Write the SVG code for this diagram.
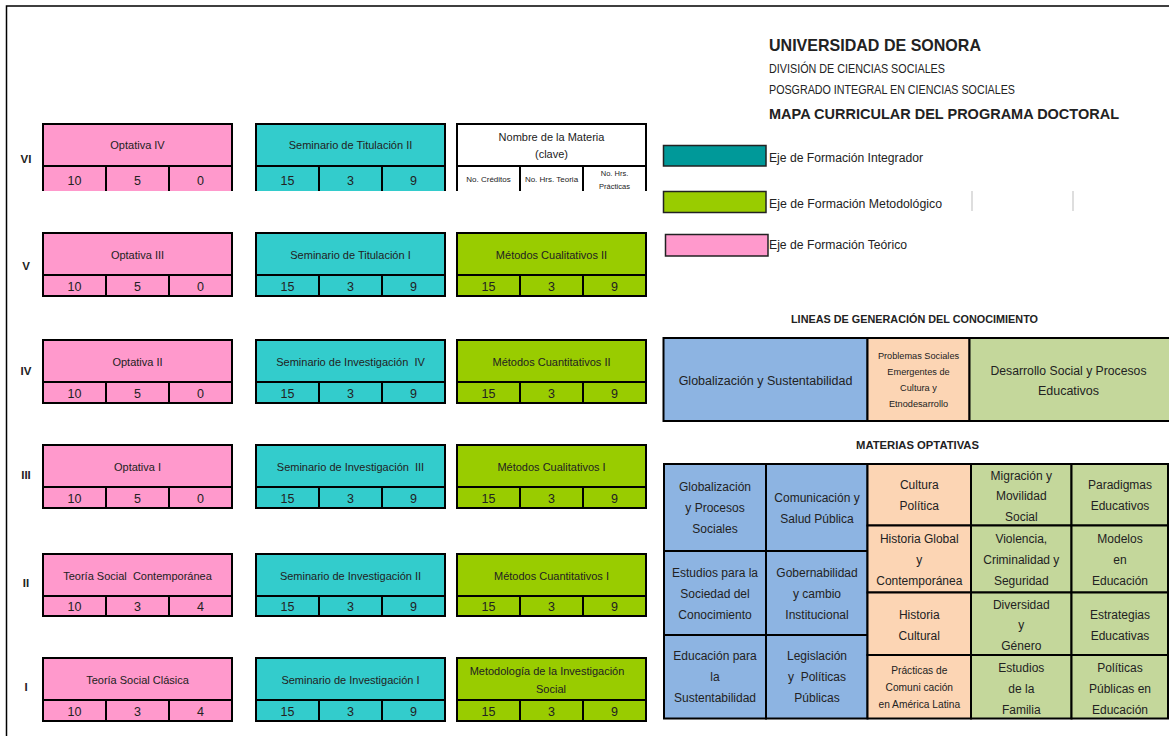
<svg xmlns="http://www.w3.org/2000/svg" width="1169" height="736" viewBox="0 0 1169 736">
<style>
text{font-family:"Liberation Sans",Arial,sans-serif;fill:#222}
.ln{fill:none;stroke:#000;stroke-width:2}
.b{stroke:#000;stroke-width:2}
.pk{fill:#FF99CC}.tl{fill:#33CCCC}.gr{fill:#99CC00}
.bl{fill:#8DB4E2}.pe{fill:#FCD5B4}.lg{fill:#C4D79B}
.t{font-size:11px;text-anchor:middle;dominant-baseline:central}
.n{font-size:12.5px;text-anchor:middle;dominant-baseline:central}
.r{font-size:11.5px;font-weight:bold;text-anchor:middle;dominant-baseline:central}
.o{font-size:12px;text-anchor:middle;dominant-baseline:central}
.s{font-size:8px;text-anchor:middle;dominant-baseline:central}
.s2{font-size:7.5px;text-anchor:middle;dominant-baseline:central}
.ps{font-size:9.2px;text-anchor:middle;dominant-baseline:central}
.pc{font-size:10.2px;text-anchor:middle;dominant-baseline:central}
.lo{font-size:12.5px;text-anchor:middle;dominant-baseline:central}
.h{font-weight:bold}
.lgd{font-size:12px}
</style>
<rect width="1169" height="736" fill="#fff"/>
<g id="frame"><path d="M6.5,736 V6 H1169" fill="none" stroke="#000" stroke-width="1.5"/></g>
<g id="connectors"/>

<g id="header">
<text class="h" x="769" y="51" font-size="17" textLength="212" lengthAdjust="spacingAndGlyphs">UNIVERSIDAD DE SONORA</text>
<text x="769" y="73" font-size="12" textLength="176" lengthAdjust="spacingAndGlyphs">DIVISIÓN DE CIENCIAS SOCIALES</text>
<text x="769" y="93.5" font-size="12" textLength="246" lengthAdjust="spacingAndGlyphs">POSGRADO INTEGRAL EN CIENCIAS SOCIALES</text>
<text class="h" x="769" y="119" font-size="15.5" textLength="350" lengthAdjust="spacingAndGlyphs">MAPA CURRICULAR DEL PROGRAMA DOCTORAL</text>
</g>

<g id="legend">
<rect x="663.5" y="145.5" width="102.5" height="20.5" fill="#009999" stroke="#222" stroke-width="1.5"/>
<text class="lgd" x="769" y="161.5" textLength="154" lengthAdjust="spacingAndGlyphs">Eje de Formación Integrador</text>
<rect x="663.5" y="191.5" width="102.5" height="21" fill="#99CC00" stroke="#222" stroke-width="1.5"/>
<text class="lgd" x="769" y="207.5" textLength="173" lengthAdjust="spacingAndGlyphs">Eje de Formación Metodológico</text>
<rect x="665.5" y="234.5" width="102.5" height="21.5" fill="#FF99CC" stroke="#222" stroke-width="1.5"/>
<text class="lgd" x="769" y="248.5" textLength="138" lengthAdjust="spacingAndGlyphs">Eje de Formación Teórico</text>
<path d="M972,191 V211 M1073,191 V211" stroke="#d4d4d4" stroke-width="1.5"/>
</g>

<g id="semesters">
<text class="r" x="26" y="159">VI</text>
<text class="r" x="26" y="266">V</text>
<text class="r" x="26" y="371">IV</text>
<text class="r" x="26" y="475">III</text>
<text class="r" x="26" y="583">II</text>
<text class="r" x="26" y="687">I</text>
</g>

<!-- Row VI -->
<g id="optativa-iv">
<rect class="pk" x="43" y="124" width="189" height="67"/>
<path class="ln" d="M43,191 V124 H232 V191 M43,166 H232 M106,166 V191 M169,166 V191"/>
<text class="t" x="137.5" y="145">Optativa IV</text>
<text class="n" x="74.5" y="181">10</text><text class="n" x="137.5" y="181">5</text><text class="n" x="200.5" y="181">0</text>
</g>
<g id="seminario-titulacion-ii">
<rect class="tl" x="256" y="124" width="189" height="67"/>
<path class="ln" d="M256,191 V124 H445 V191 M256,166 H445 M319,166 V191 M382,166 V191"/>
<text class="t" x="350.5" y="145">Seminario de Titulación II</text>
<text class="n" x="287.5" y="181">15</text><text class="n" x="350.5" y="181">3</text><text class="n" x="413.5" y="181">9</text>
</g>
<g id="nombre-materia">
<rect x="457" y="124" width="189" height="67" fill="#fff"/>
<path class="ln" d="M457,191 V124 H646 V191 M457,166 H646 M520,166 V191 M583,166 V191"/>
<text class="t" x="551.5" y="137">Nombre de la Materia</text>
<text class="t" x="551.5" y="154">(clave)</text>
<text class="s" x="488.5" y="179.5">No. Créditos</text>
<text class="s" x="551.5" y="179.5">No. Hrs. Teoria</text>
<text class="s2" x="614.5" y="173">No. Hrs.</text>
<text class="s2" x="614.5" y="186">Prácticas</text>
</g>

<!-- Row V -->
<g id="optativa-iii">
<rect class="pk b" x="43" y="233" width="189" height="63"/>
<path class="ln" d="M43,275 H232 M106,275 V296 M169,275 V296"/>
<text class="t" x="137.5" y="255">Optativa III</text>
<text class="n" x="74.5" y="286.5">10</text><text class="n" x="137.5" y="286.5">5</text><text class="n" x="200.5" y="286.5">0</text>
</g>
<g id="seminario-titulacion-i">
<rect class="tl b" x="256" y="233" width="189" height="63"/>
<path class="ln" d="M256,275 H445 M319,275 V296 M382,275 V296"/>
<text class="t" x="350.5" y="255">Seminario de Titulación I</text>
<text class="n" x="287.5" y="286.5">15</text><text class="n" x="350.5" y="286.5">3</text><text class="n" x="413.5" y="286.5">9</text>
</g>
<g id="metodos-cualitativos-ii">
<rect class="gr b" x="457" y="233" width="189" height="63"/>
<path class="ln" d="M457,275 H646 M520,275 V296 M583,275 V296"/>
<text class="t" x="551.5" y="255">Métodos Cualitativos II</text>
<text class="n" x="488.5" y="286.5">15</text><text class="n" x="551.5" y="286.5">3</text><text class="n" x="614.5" y="286.5">9</text>
</g>

<!-- Row IV -->
<g id="optativa-ii">
<rect class="pk b" x="43" y="340" width="189" height="63"/>
<path class="ln" d="M43,382 H232 M106,382 V403 M169,382 V403"/>
<text class="t" x="137.5" y="362">Optativa II</text>
<text class="n" x="74.5" y="393.5">10</text><text class="n" x="137.5" y="393.5">5</text><text class="n" x="200.5" y="393.5">0</text>
</g>
<g id="seminario-investigacion-iv">
<rect class="tl b" x="256" y="340" width="189" height="63"/>
<path class="ln" d="M256,382 H445 M319,382 V403 M382,382 V403"/>
<text class="t" x="350.5" y="362" xml:space="preserve">Seminario de Investigación  IV</text>
<text class="n" x="287.5" y="393.5">15</text><text class="n" x="350.5" y="393.5">3</text><text class="n" x="413.5" y="393.5">9</text>
</g>
<g id="metodos-cuantitativos-ii">
<rect class="gr b" x="457" y="340" width="189" height="63"/>
<path class="ln" d="M457,382 H646 M520,382 V403 M583,382 V403"/>
<text class="t" x="551.5" y="362">Métodos Cuantitativos II</text>
<text class="n" x="488.5" y="393.5">15</text><text class="n" x="551.5" y="393.5">3</text><text class="n" x="614.5" y="393.5">9</text>
</g>

<!-- Row III -->
<g id="optativa-i">
<rect class="pk b" x="43" y="445" width="189" height="63"/>
<path class="ln" d="M43,487 H232 M106,487 V508 M169,487 V508"/>
<text class="t" x="137.5" y="467">Optativa I</text>
<text class="n" x="74.5" y="498.5">10</text><text class="n" x="137.5" y="498.5">5</text><text class="n" x="200.5" y="498.5">0</text>
</g>
<g id="seminario-investigacion-iii">
<rect class="tl b" x="256" y="445" width="189" height="63"/>
<path class="ln" d="M256,487 H445 M319,487 V508 M382,487 V508"/>
<text class="t" x="350.5" y="467" xml:space="preserve">Seminario de Investigación  III</text>
<text class="n" x="287.5" y="498.5">15</text><text class="n" x="350.5" y="498.5">3</text><text class="n" x="413.5" y="498.5">9</text>
</g>
<g id="metodos-cualitativos-i">
<rect class="gr b" x="457" y="445" width="189" height="63"/>
<path class="ln" d="M457,487 H646 M520,487 V508 M583,487 V508"/>
<text class="t" x="551.5" y="467">Métodos Cualitativos I</text>
<text class="n" x="488.5" y="498.5">15</text><text class="n" x="551.5" y="498.5">3</text><text class="n" x="614.5" y="498.5">9</text>
</g>

<!-- Row II -->
<g id="teoria-social-contemporanea">
<rect class="pk b" x="43" y="554" width="189" height="62"/>
<path class="ln" d="M43,596 H232 M106,596 V616 M169,596 V616"/>
<text class="t" x="137.5" y="576" xml:space="preserve">Teoría Social  Contemporánea</text>
<text class="n" x="74.5" y="607">10</text><text class="n" x="137.5" y="607">3</text><text class="n" x="200.5" y="607">4</text>
</g>
<g id="seminario-investigacion-ii">
<rect class="tl b" x="256" y="554" width="189" height="62"/>
<path class="ln" d="M256,596 H445 M319,596 V616 M382,596 V616"/>
<text class="t" x="350.5" y="576">Seminario de Investigación II</text>
<text class="n" x="287.5" y="607">15</text><text class="n" x="350.5" y="607">3</text><text class="n" x="413.5" y="607">9</text>
</g>
<g id="metodos-cuantitativos-i">
<rect class="gr b" x="457" y="554" width="189" height="62"/>
<path class="ln" d="M457,596 H646 M520,596 V616 M583,596 V616"/>
<text class="t" x="551.5" y="576">Métodos Cuantitativos I</text>
<text class="n" x="488.5" y="607">15</text><text class="n" x="551.5" y="607">3</text><text class="n" x="614.5" y="607">9</text>
</g>

<!-- Row I -->
<g id="teoria-social-clasica">
<rect class="pk b" x="43" y="658" width="189" height="63"/>
<path class="ln" d="M43,700 H232 M106,700 V721 M169,700 V721"/>
<text class="t" x="137.5" y="680">Teoría Social Clásica</text>
<text class="n" x="74.5" y="711.5">10</text><text class="n" x="137.5" y="711.5">3</text><text class="n" x="200.5" y="711.5">4</text>
</g>
<g id="seminario-investigacion-i">
<rect class="tl b" x="256" y="658" width="189" height="63"/>
<path class="ln" d="M256,700 H445 M319,700 V721 M382,700 V721"/>
<text class="t" x="350.5" y="680">Seminario de Investigación I</text>
<text class="n" x="287.5" y="711.5">15</text><text class="n" x="350.5" y="711.5">3</text><text class="n" x="413.5" y="711.5">9</text>
</g>
<g id="metodologia-investigacion-social">
<rect class="gr b" x="457" y="658" width="189" height="63"/>
<path class="ln" d="M457,700 H646 M520,700 V721 M583,700 V721"/>
<text class="t" x="547" y="671">Metodología de la Investigación</text>
<text class="t" x="551" y="689">Social</text>
<text class="n" x="488.5" y="711.5">15</text><text class="n" x="551.5" y="711.5">3</text><text class="n" x="614.5" y="711.5">9</text>
</g>

<!-- Lineas de generación -->
<g id="lineas-title"><text class="h" x="914.5" y="322.5" font-size="11" text-anchor="middle" textLength="247" lengthAdjust="spacingAndGlyphs">LINEAS DE GENERACIÓN DEL CONOCIMIENTO</text></g>
<g id="linea-globalizacion">
<rect class="bl b" x="663.5" y="338" width="204" height="83"/>
<text class="lo" x="765.5" y="381">Globalización y Sustentabilidad</text>
</g>
<g id="linea-problemas-sociales">
<rect class="pe b" x="867.5" y="338" width="102" height="83"/>
<text class="ps" x="918.5" y="355.5">Problemas Sociales</text>
<text class="ps" x="918.5" y="371.5">Emergentes de</text>
<text class="ps" x="918.5" y="388">Cultura y</text>
<text class="ps" x="918.5" y="404">Etnodesarrollo</text>
</g>
<g id="linea-desarrollo-social">
<rect class="lg b" x="969.5" y="338" width="203" height="83"/>
<text class="lo" x="1068.5" y="370.5" textLength="156" lengthAdjust="spacingAndGlyphs">Desarrollo Social y Procesos</text>
<text class="lo" x="1068.5" y="390.5">Educativos</text>
</g>

<!-- Materias optativas -->
<g id="optativas-title"><text class="h" x="917.5" y="448.5" font-size="11" text-anchor="middle" textLength="123" lengthAdjust="spacingAndGlyphs">MATERIAS OPTATIVAS</text></g>

<g id="opt-globalizacion-procesos">
<rect class="bl b" x="664" y="464" width="102" height="87"/>
<text class="o" x="715" y="487">Globalización</text><text class="o" x="715" y="508">y Procesos</text><text class="o" x="715" y="528.5">Sociales</text>
</g>
<g id="opt-comunicacion-salud">
<rect class="bl b" x="766" y="464" width="101.5" height="87"/>
<text class="o" x="817" y="497.5">Comunicación y</text><text class="o" x="817" y="518.5">Salud Pública</text>
</g>
<g id="opt-estudios-sociedad">
<rect class="bl b" x="664" y="551" width="102" height="84"/>
<text class="o" x="715" y="572.5">Estudios para la</text><text class="o" x="715" y="593.5">Sociedad del</text><text class="o" x="715" y="614.5">Conocimiento</text>
</g>
<g id="opt-gobernabilidad">
<rect class="bl b" x="766" y="551" width="101.5" height="84"/>
<text class="o" x="817" y="572.5">Gobernabilidad</text><text class="o" x="817" y="593.5">y cambio</text><text class="o" x="817" y="614.5">Institucional</text>
</g>
<g id="opt-educacion-sustentabilidad">
<rect class="bl b" x="664" y="635" width="102" height="83.5"/>
<text class="o" x="715" y="656">Educación para</text><text class="o" x="715" y="677">la</text><text class="o" x="715" y="698">Sustentabilidad</text>
</g>
<g id="opt-legislacion">
<rect class="bl b" x="766" y="635" width="101.5" height="83.5"/>
<text class="o" x="817" y="656">Legislación</text><text class="o" x="817" y="677" xml:space="preserve">y  Políticas</text><text class="o" x="817" y="698">Públicas</text>
</g>

<g id="opt-cultura-politica">
<rect class="pe b" x="867.5" y="464" width="103.5" height="61.5"/>
<text class="o" x="919.3" y="484.5">Cultura</text><text class="o" x="919.3" y="505.5">Política</text>
</g>
<g id="opt-historia-global">
<rect class="pe b" x="867.5" y="525.5" width="103.5" height="67"/>
<text class="o" x="919.3" y="538.5">Historia Global</text><text class="o" x="919.3" y="559.5">y</text><text class="o" x="919.3" y="580.5">Contemporánea</text>
</g>
<g id="opt-historia-cultural">
<rect class="pe b" x="867.5" y="592.5" width="103.5" height="62.5"/>
<text class="o" x="919.3" y="614.5">Historia</text><text class="o" x="919.3" y="635.5">Cultural</text>
</g>
<g id="opt-practicas-comunicacion">
<rect class="pe b" x="867.5" y="655" width="103.5" height="63.5"/>
<text class="pc" x="919.3" y="670">Prácticas de</text><text class="pc" x="919.3" y="687.5">Comuni cación</text><text class="pc" x="919.3" y="704.5">en América Latina</text>
</g>

<g id="opt-migracion">
<rect class="lg b" x="971" y="464" width="100.5" height="61.5"/>
<text class="o" x="1021.3" y="476">Migración y</text><text class="o" x="1021.3" y="496">Movilidad</text><text class="o" x="1021.3" y="516.5">Social</text>
</g>
<g id="opt-violencia">
<rect class="lg b" x="971" y="525.5" width="100.5" height="67"/>
<text class="o" x="1021.3" y="538.5">Violencia,</text><text class="o" x="1021.3" y="559.5">Criminalidad y</text><text class="o" x="1021.3" y="580.5">Seguridad</text>
</g>
<g id="opt-diversidad">
<rect class="lg b" x="971" y="592.5" width="100.5" height="62.5"/>
<text class="o" x="1021.3" y="604.5">Diversidad</text><text class="o" x="1021.3" y="625">y</text><text class="o" x="1021.3" y="646">Género</text>
</g>
<g id="opt-estudios-familia">
<rect class="lg b" x="971" y="655" width="100.5" height="63.5"/>
<text class="o" x="1021.3" y="668">Estudios</text><text class="o" x="1021.3" y="688.5">de la</text><text class="o" x="1021.3" y="709.5">Familia</text>
</g>

<g id="opt-paradigmas">
<rect class="lg b" x="1071.5" y="464" width="96.5" height="61.5"/>
<text class="o" x="1120" y="484.5">Paradigmas</text><text class="o" x="1120" y="505.5">Educativos</text>
</g>
<g id="opt-modelos">
<rect class="lg b" x="1071.5" y="525.5" width="96.5" height="67"/>
<text class="o" x="1120" y="538.5">Modelos</text><text class="o" x="1120" y="559.5">en</text><text class="o" x="1120" y="580.5">Educación</text>
</g>
<g id="opt-estrategias">
<rect class="lg b" x="1071.5" y="592.5" width="96.5" height="62.5"/>
<text class="o" x="1120" y="614.5">Estrategias</text><text class="o" x="1120" y="635.5">Educativas</text>
</g>
<g id="opt-politicas-educacion">
<rect class="lg b" x="1071.5" y="655" width="96.5" height="63.5"/>
<text class="o" x="1120" y="668">Políticas</text><text class="o" x="1120" y="688.5">Públicas en</text><text class="o" x="1120" y="709.5">Educación</text>
</g>
</svg>
